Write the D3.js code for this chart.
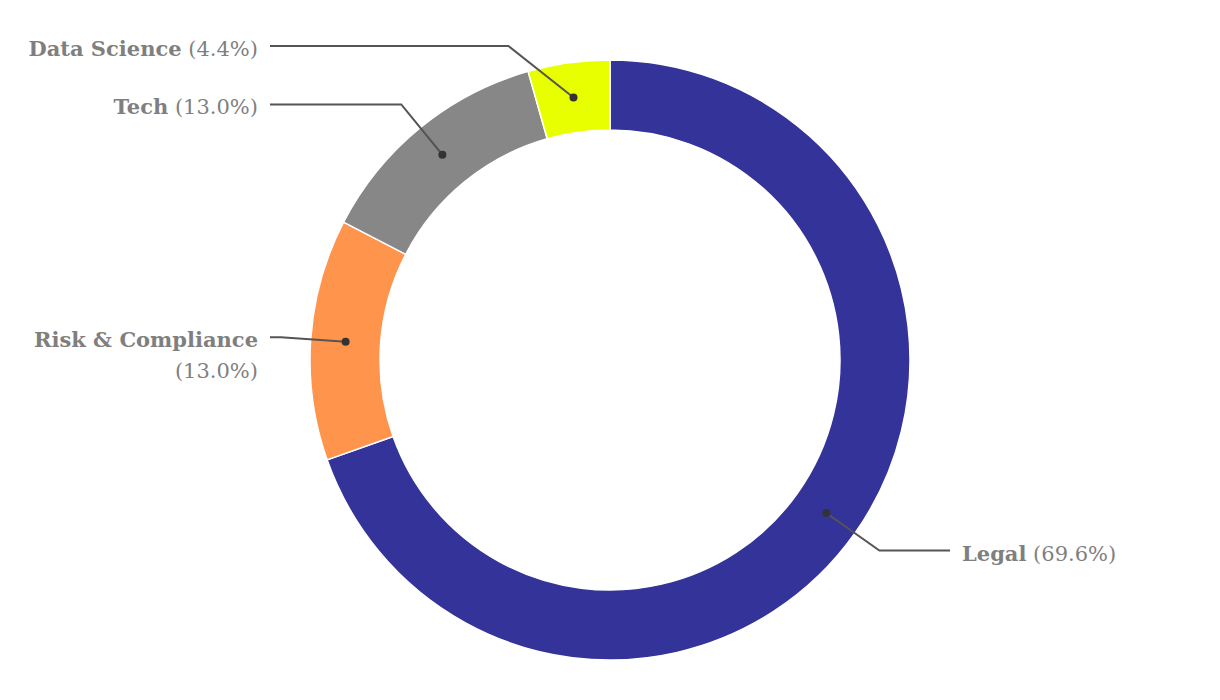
<!DOCTYPE html>
<html>
<head>
<meta charset="utf-8">
<script src="https://cdn.jsdelivr.net/npm/d3@7"></script>
<style>
  body { margin: 0; background: #fff; }
  svg { display: block; }
</style>
</head>
<body>
<div id="chart"></div>
<script>
// data
const categories = ["Legal", "Risk & Compliance", "Tech", "Data Science"]
const shares = [69.6, 13.0, 13.0, 4.4]
const sliceColors = ["#333399", "#ff944d", "#878787", "#e8ff00"]

const width = 1220, height = 700
const cx = 610, cy = 360
const outerR = 300, innerR = 230
const lineR = 330      // radius where the leader line bends
const lineEnd = 340    // horizontal end of the leader line
const textOff = 352    // label anchor
const minY = -314      // labels can't go higher than this

const data = categories.map((c, i) => ({ name: c, value: shares[i], color: sliceColors[i] }))

const svg = d3.select("#chart")
    .append("svg")
    .attr("width", width)
    .attr("height", height)

const g = svg.append("g")
    .attr("transform", "translate(" + cx + "," + cy + ")")

const pie = d3.pie().sort(null).value(d => d.value)
const arc = d3.arc().innerRadius(innerR).outerRadius(outerR)
const arcs = pie(data)

//slices
g.selectAll(".slice")
    .data(arcs)
    .enter()
    .append("path")
    .attr("class", "slice")
    .attr("d", arc)
    .attr("fill", d => d.data.color)
    .attr("stroke", "#fff")
    .attr("stroke-width", 1.5)

const fmt = d3.format(".1f")

//leader lines + labels
arcs.forEach(function (a) {
    let mid = (a.startAngle + a.endAngle) / 2
    let side = Math.sin(mid) >= 0 ? 1 : -1
    let c = arc.centroid(a)
    let y = Math.max(-lineR * Math.cos(mid), minY)
    let bx = side * Math.sqrt(lineR * lineR - y * y)

    g.append("polyline")
        .attr("points", [c, [bx, y], [side * lineEnd, y]].map(p => p.join(",")).join(" "))
        .attr("fill", "none")
        .attr("stroke", "#555")
        .attr("stroke-width", 2)

    g.append("circle")
        .attr("cx", c[0])
        .attr("cy", c[1])
        .attr("r", 4)
        .attr("fill", "#333")

    let txt = g.append("text")
        .attr("x", side * textOff)
        .attr("y", y)
        .attr("dy", 10)
        .attr("text-anchor", side > 0 ? "start" : "end")
        .style("font-family", "'DejaVu Serif', serif")
        .style("font-size", "21px")
        .style("fill", "#7f7f7f")

    txt.append("tspan")
        .style("font-weight", "bold")
        .text(a.data.name)
    let pct = txt.append("tspan")
        .text(" (" + fmt(a.data.value) + "%)")

    // wrap the percentage if the label runs out of room
    let room = side > 0 ? width - (cx + textOff) - 20 : cx - textOff - 20
    if (txt.node().getComputedTextLength() > room) {
        pct.text("(" + fmt(a.data.value) + "%)")
            .attr("x", side * textOff)
            .attr("dy", 31)
    }
})
</script>
</body>
</html>
